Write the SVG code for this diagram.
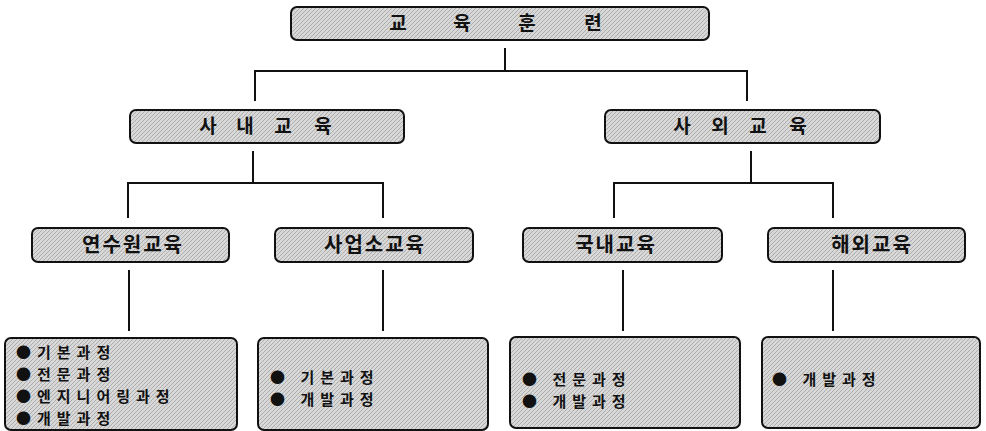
<svg xmlns="http://www.w3.org/2000/svg" width="986" height="431" viewBox="0 0 986 431">
<style>
.box{fill:url(#stip);stroke:#111;stroke-width:2}
.t{font-family:"Noto Sans CJK KR","Noto Sans",sans-serif;font-weight:bold;fill:#111;font-size:19px}
.m{font-size:20px;letter-spacing:2px}
.c{text-anchor:middle}
.item{font-family:"Noto Sans CJK KR","Noto Sans",sans-serif;font-weight:bold;fill:#111;font-size:15px;letter-spacing:6px}
.ln{stroke:#111;stroke-width:2;fill:none}
</style>
<defs>
<pattern id="stip" width="4" height="4" patternUnits="userSpaceOnUse">
<rect width="4" height="4" fill="#d8d8d8"/>
<path d="M0 4L4 0" stroke="#adadad" stroke-width="1"/>
</pattern>
</defs>
<g id="connectors">
<path class="ln" d="M505 48V71M255 101V71H747V101"/>
<path class="ln" d="M253 151V183M128 218V183H383V218"/>
<path class="ln" d="M751 151V183M614 218V183H833V218"/>
<path class="ln" d="M129 270V331M383 270V331M623 270V331M833 270V331"/>
</g>
<g id="n-root">
<rect class="box" x="291" y="7" width="418" height="33" rx="6"/>
<text class="t c" y="30"><tspan x="398">교</tspan><tspan x="462">육</tspan><tspan x="527">훈</tspan><tspan x="593">련</tspan></text>
</g>
<g id="n-internal">
<rect class="box" x="130" y="110" width="274" height="33" rx="6"/>
<text class="t c" y="133"><tspan x="208">사</tspan><tspan x="245">내</tspan><tspan x="283">교</tspan><tspan x="323">육</tspan></text>
</g>
<g id="n-external">
<rect class="box" x="605" y="110" width="275" height="33" rx="6"/>
<text class="t c" y="133"><tspan x="682">사</tspan><tspan x="720">외</tspan><tspan x="758">교</tspan><tspan x="798">육</tspan></text>
</g>
<g id="n-training-center">
<rect class="box" x="32" y="228" width="197" height="34" rx="6"/>
<text class="t m c" x="133" y="252">연수원교육</text>
</g>
<g id="n-workplace">
<rect class="box" x="275" y="228" width="198" height="34" rx="6"/>
<text class="t m c" x="375" y="252">사업소교육</text>
</g>
<g id="n-domestic">
<rect class="box" x="523" y="228" width="199" height="34" rx="6"/>
<text class="t m c" x="616" y="252">국내교육</text>
</g>
<g id="n-overseas">
<rect class="box" x="768" y="228" width="197" height="34" rx="6"/>
<text class="t m c" x="872" y="252">해외교육</text>
</g>
<g id="n-list1">
<rect class="box" x="5" y="338" width="232" height="92" rx="6"/>
<text class="item" y="358"><tspan x="16">●기본과정</tspan><tspan x="16" dy="22">●전문과정</tspan><tspan x="16" dy="22">●엔지니어링과정</tspan><tspan x="16" dy="22">●개발과정</tspan></text>
</g>
<g id="n-list2">
<rect class="box" x="258" y="338" width="230" height="92" rx="6"/>
<text class="item" y="383"><tspan x="270">● 기본과정</tspan><tspan x="270" dy="22">● 개발과정</tspan></text>
</g>
<g id="n-list3">
<rect class="box" x="510" y="337" width="230" height="91" rx="6"/>
<text class="item" y="385"><tspan x="522">● 전문과정</tspan><tspan x="522" dy="22">● 개발과정</tspan></text>
</g>
<g id="n-list4">
<rect class="box" x="762" y="337" width="218" height="91" rx="6"/>
<text class="item" x="772" y="385">● 개발과정</text>
</g>
</svg>
